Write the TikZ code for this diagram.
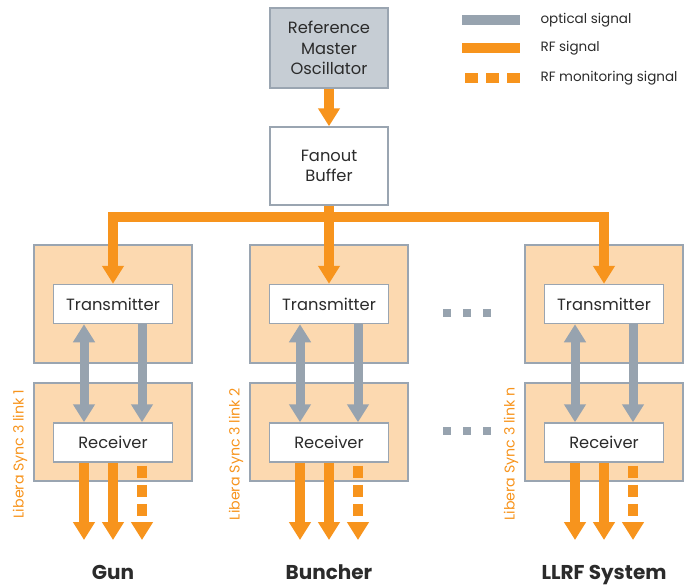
\documentclass[tikz,border=0pt]{standalone}
\usepackage{fontspec}
\setmainfont{Poppins}
\usetikzlibrary{arrows.meta}
\definecolor{rf}{HTML}{F7941D}
\definecolor{optic}{HTML}{97A3AF}
\definecolor{boxline}{HTML}{9AA5B1}
\definecolor{peach}{HTML}{FCD9B0}
\definecolor{oscfill}{HTML}{C6CDD4}
\definecolor{ink}{HTML}{2B2B2B}
\begin{document}
\begin{tikzpicture}[x=1pt,y=-1pt,
  bigtri/.tip={Triangle[width=21pt,length=18pt]},
  box/.style={draw=boxline, line width=1.5pt, inner sep=0pt, align=center,
    text=ink, font=\fontsize{16.3}{20.5}\selectfont},
  unitbox/.style={box, fill=white, minimum width=119pt, minimum height=39pt},
  rackbox/.style={draw=boxline, line width=1.5pt, fill=peach, inner sep=0pt,
    minimum width=158pt},
  rfline/.style={draw=rf, line width=10pt, line join=miter},
  rfarrow/.style={rfline, -{bigtri}},
  rfmon/.style={rfarrow, dash pattern=on 12pt off 7pt},
  optarrow/.style={draw=optic, line width=9pt, -{bigtri}},
  optboth/.style={draw=optic, line width=9pt, {bigtri}-{bigtri}},
  linklabel/.style={text=rf, rotate=90, font=\fontsize{14.2}{16}\selectfont},
  dest/.style={text=ink, anchor=base, inner sep=0pt, text depth=0pt,
    font=\bfseries\fontsize{20}{24}\selectfont},
  legendtext/.style={anchor=west, text=ink, font=\fontsize{13.5}{16}\selectfont},
  gap/.style={fill=optic}
]
\useasboundingbox (0,0) rectangle (684,586);

% oscillator and fanout
\node[box, fill=oscfill, minimum width=118pt, minimum height=80pt] (rmo) at (329,48)
  {Reference\\Master\\Oscillator};
\node[box, fill=white, minimum width=118pt, minimum height=78pt] (fan) at (329,166)
  {Fanout\\Buffer};
\draw[rfarrow] (rmo.south) -- (fan.north);

% legend
\coordinate (lg1a) at (462,20); \coordinate (lg1b) at (520,20);
\coordinate (lg2a) at (462,48); \coordinate (lg2b) at (520,48);
\coordinate (lg3a) at (465,78); \coordinate (lg3b) at (520,78);
\draw[draw=optic, line width=10pt] (lg1a) -- (lg1b);
\draw[rfline] (lg2a) -- (lg2b);
\draw[rfline, dash pattern=on 13pt off 8pt] (lg3a) -- (lg3b);
\node[legendtext] (lt1) at (537,20) {optical signal};
\node[legendtext] (lt2) at (537,48) {RF signal};
\node[legendtext] (lt3) at (537,78) {RF monitoring signal};

% one Libera Sync 3 link per column
\coordinate (outrow) at (0,540);
\foreach \i/\cx/\lnk/\dst in {1/113/1/Gun, 2/329/2/Buncher, 3/604/n/LLRF System}{
  \node[rackbox, minimum height=118pt] (up\i) at (\cx,304) {};
  \node[rackbox, minimum height=98pt] (lo\i) at (\cx,432) {};
  \node[unitbox] (tx\i) at (\cx,304) {Transmitter};
  \node[unitbox] (rx\i) at (\cx,442.5) {Receiver};
  \draw[optboth] ([xshift=-29pt]tx\i.south) -- ([xshift=-29pt]rx\i.north);
  \draw[optarrow] ([xshift=29pt]tx\i.south) -- ([xshift=29pt]rx\i.north);
  \draw[rfarrow] ([xshift=-29pt]rx\i.south) -- ([xshift=-29pt]rx\i.south |- outrow);
  \draw[rfarrow] (rx\i.south) -- (rx\i.south |- outrow);
  \draw[rfmon] ([xshift=29pt,yshift=-3pt]rx\i.south) -- ([xshift=29pt]rx\i.south |- outrow);
  \node[linklabel] (lk\i) at (\cx-93,454) {Libera Sync 3 link \lnk};
  \node[dest] (d\i) at (\cx,579) {\dst};
}

% RF distribution bus from the fanout buffer
\coordinate (bus) at (0,217);
\draw[rfline, {bigtri}-{bigtri}] (tx1.north) -- (tx1.north |- bus) -- (tx3.north |- bus) -- (tx3.north);
\draw[rfarrow] (fan.south) -- (tx2.north);

% ellipsis between the second and the last link
\foreach \yy in {313,431}{
  \foreach \xx in {447,467,487}{
    \fill[gap] (\xx-4,\yy-4) rectangle (\xx+4,\yy+4);
  }
}
\end{tikzpicture}
\end{document}
